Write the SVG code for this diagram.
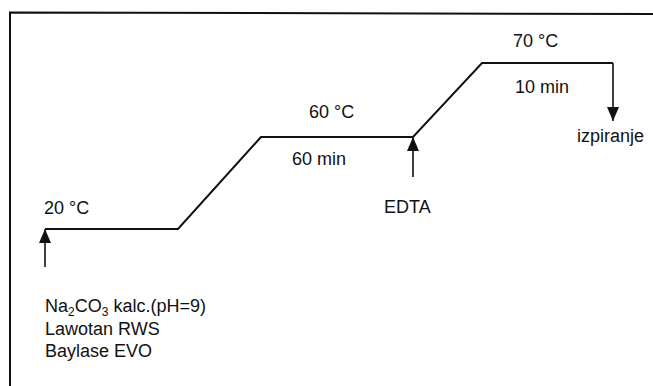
<svg xmlns="http://www.w3.org/2000/svg" width="653" height="386" viewBox="0 0 653 386">
<style>
text{font-family:"Liberation Sans",Arial,sans-serif;font-size:18px;fill:#111}
.ln{fill:none;stroke:#111;stroke-width:2}
.ar{fill:none;stroke:#111;stroke-width:1.6}
.sub{font-size:12px}
</style>
<defs>
<marker id="ah" viewBox="0 -6 14 12" refX="14" refY="0" markerWidth="14" markerHeight="12" markerUnits="userSpaceOnUse" orient="auto">
<path d="M0,-6 L14,0 L0,6 z" fill="#111"/>
</marker>
</defs>
<rect width="653" height="386" fill="#fff"/>
<g id="frame">
<path class="ln" d="M10,386 V12.5 L653,14"/>
</g>
<g id="profile">
<path class="ln" d="M45,229 H178 L261,137 H413 L482,63 H613"/>
</g>
<g id="connectors">
<line class="ar" x1="45" y1="267" x2="45" y2="229" marker-end="url(#ah)"/>
<line class="ar" x1="413" y1="177" x2="413" y2="137" marker-end="url(#ah)"/>
<line class="ar" x1="613" y1="63" x2="613" y2="121" marker-end="url(#ah)"/>
</g>
<g id="t20"><text x="44" y="214">20 °C</text></g>
<g id="t60"><text x="309" y="118">60 °C</text><text x="292" y="165">60 min</text></g>
<g id="t70"><text x="513" y="47">70 °C</text><text x="515" y="93">10 min</text></g>
<g id="edta"><text x="384" y="213">EDTA</text></g>
<g id="rinse"><text x="577" y="142">izpiranje</text></g>
<g id="chem">
<text x="45" y="312">Na<tspan class="sub" dy="4">2</tspan><tspan dy="-4">CO</tspan><tspan class="sub" dy="4">3</tspan><tspan dy="-4"> kalc.(pH=9)</tspan></text>
<text x="45" y="335">Lawotan RWS</text>
<text x="45" y="357">Baylase EVO</text>
</g>
</svg>
